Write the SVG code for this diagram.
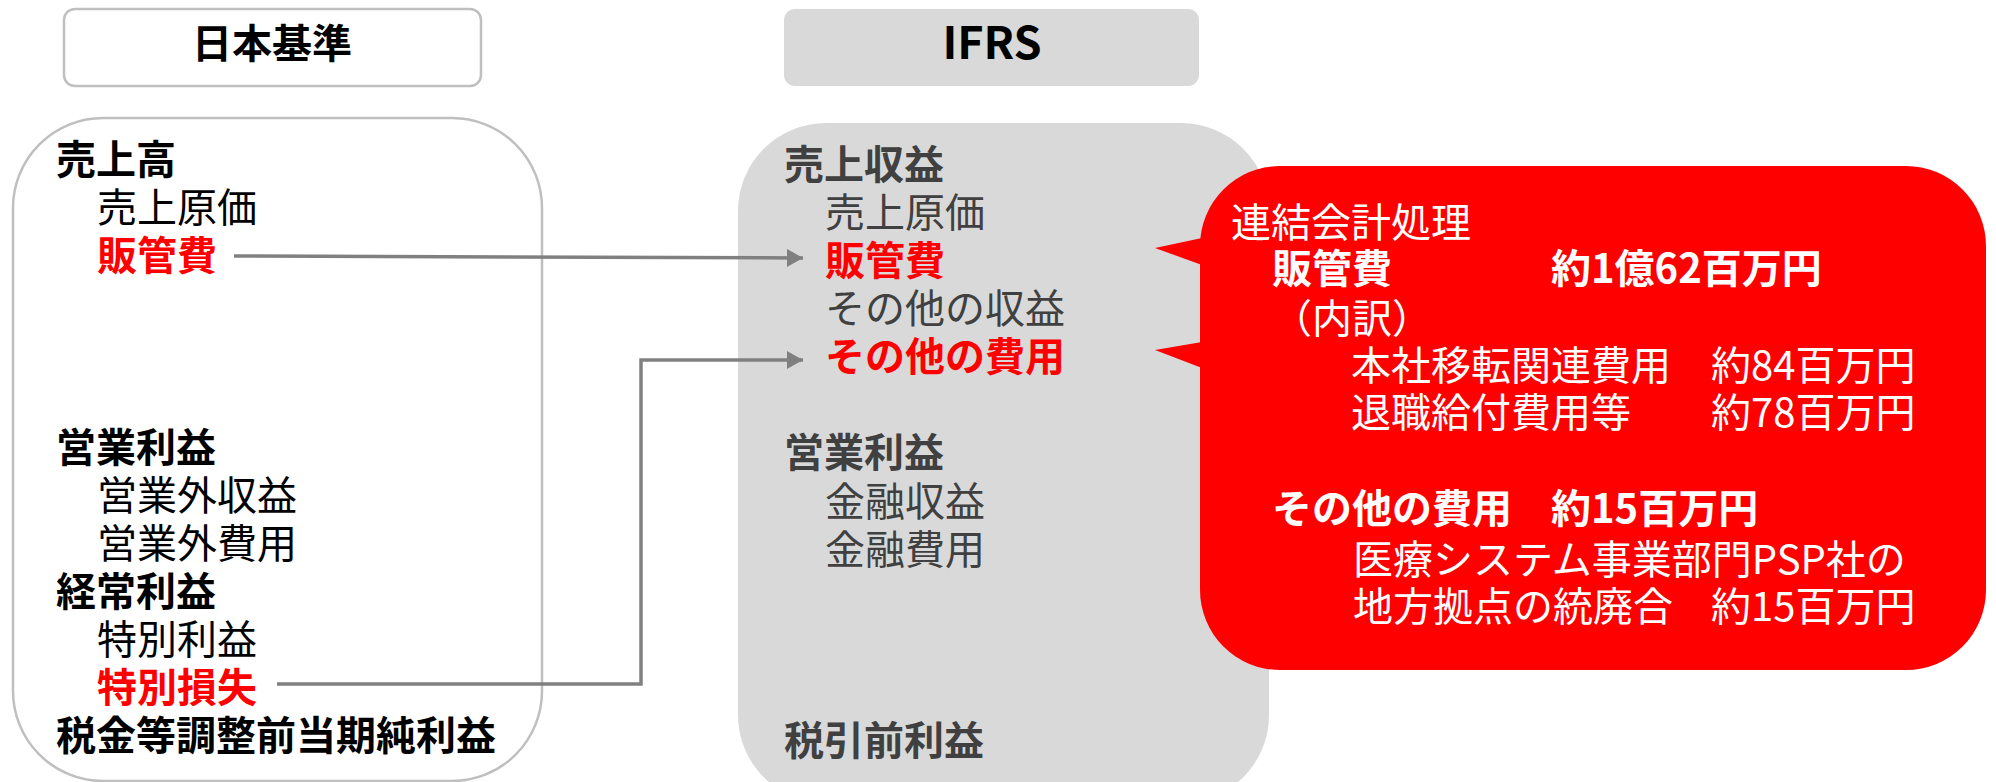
<svg xmlns="http://www.w3.org/2000/svg" width="1996" height="782" viewBox="0 0 1996 782">
<style>
text{font-family:"Noto Sans CJK JP","Noto Sans",sans-serif;font-size:40px}
.b{font-weight:bold}
.k{fill:#000000}
.g{fill:#404040}
.r{fill:#ff0000}
.w{fill:#ffffff}
.conn{fill:none;stroke:#808080;stroke-width:3.5}
</style>
<defs>
<marker id="ah" markerWidth="17" markerHeight="18" refX="16" refY="9" orient="auto" markerUnits="userSpaceOnUse">
<path d="M0,0 L16,9 L0,18 Z" fill="#808080"/>
</marker>
</defs>
<rect width="1996" height="782" fill="#ffffff"/>
<g id="header-jp">
<rect x="64" y="9" width="417" height="77" rx="11" fill="#ffffff" stroke="#bfbfbf" stroke-width="2.5"/>
<text x="272" y="58" text-anchor="middle" class="b k">日本基準</text>
</g>
<g id="header-ifrs">
<rect x="784" y="9" width="415" height="77" rx="11" fill="#d9d9d9"/>
<text x="992" y="59" text-anchor="middle" class="b k" style="font-size:45px">IFRS</text>
</g>
<g id="jp-box">
<rect x="13" y="118" width="529" height="663" rx="90" fill="#ffffff" stroke="#bfbfbf" stroke-width="2.5"/>
<text x="56" y="174" class="b k">売上高</text>
<text x="97" y="222" class="k">売上原価</text>
<text x="97" y="270" class="b r">販管費</text>
<text x="56" y="462" class="b k">営業利益</text>
<text x="97" y="510" class="k">営業外収益</text>
<text x="97" y="558" class="k">営業外費用</text>
<text x="56" y="606" class="b k">経常利益</text>
<text x="97" y="654" class="k">特別利益</text>
<text x="97" y="702" class="b r">特別損失</text>
<text x="56" y="750" class="b k">税金等調整前当期純利益</text>
</g>
<g id="ifrs-box">
<rect x="738" y="123" width="531" height="680" rx="88" fill="#d9d9d9"/>
<text x="784" y="179" class="b g">売上収益</text>
<text x="825" y="227" class="g">売上原価</text>
<text x="825" y="275" class="b r">販管費</text>
<text x="825" y="323" class="g">その他の収益</text>
<text x="825" y="371" class="b r">その他の費用</text>
<text x="784" y="467" class="b g">営業利益</text>
<text x="825" y="516" class="g">金融収益</text>
<text x="825" y="564" class="g">金融費用</text>
<text x="784" y="755" class="b g">税引前利益</text>
</g>
<g id="callout">
<rect x="1200" y="166" width="786" height="504" rx="80" fill="#ff0000"/>
<polygon points="1202,238 1155,248 1202,265" fill="#ff0000"/>
<polygon points="1202,342 1155,350 1202,368" fill="#ff0000"/>
<text x="1231" y="237" class="w">連結会計処理</text>
<text y="283" class="b w"><tspan x="1272">販管費</tspan><tspan x="1551">約1億62百万円</tspan></text>
<text x="1272" y="333" class="w">（内訳）</text>
<text y="380" class="w"><tspan x="1351">本社移転関連費用</tspan><tspan x="1711">約84百万円</tspan></text>
<text y="427" class="w"><tspan x="1351">退職給付費用等</tspan><tspan x="1711">約78百万円</tspan></text>
<text y="523" class="b w"><tspan x="1272">その他の費用</tspan><tspan x="1551">約15百万円</tspan></text>
<text x="1353" y="574" class="w">医療システム事業部門PSP社の</text>
<text y="621" class="w"><tspan x="1353">地方拠点の統廃合</tspan><tspan x="1711">約15百万円</tspan></text>
</g>
<g id="connectors">
<path class="conn" d="M234,256 L803,258" marker-end="url(#ah)"/>
<path class="conn" d="M277,684 L641,684 L641,360 L803,360" marker-end="url(#ah)"/>
</g>
</svg>
